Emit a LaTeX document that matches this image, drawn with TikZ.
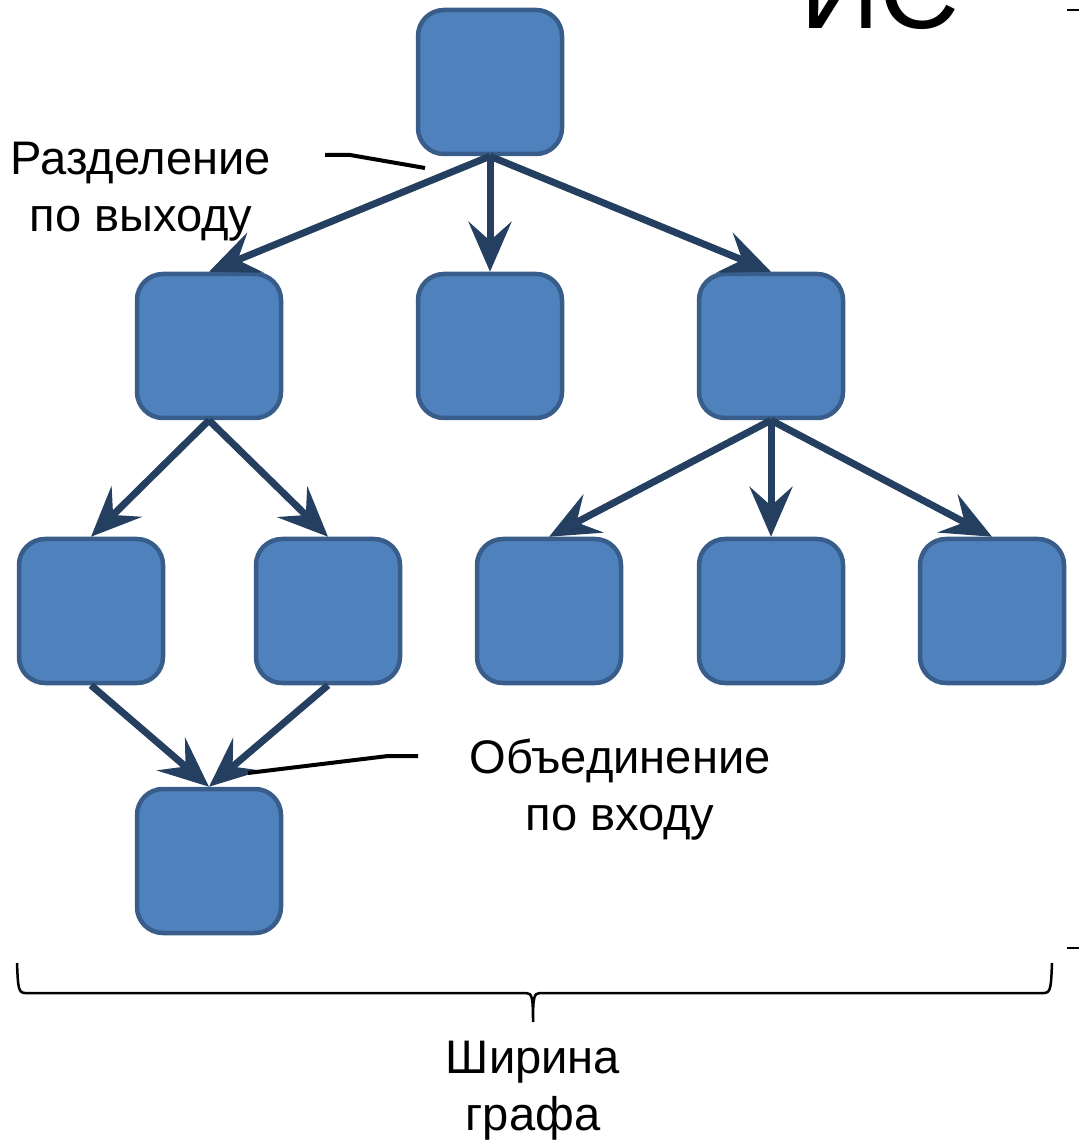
\documentclass[tikz,border=0pt]{standalone}
\usepackage{fontspec}
\setmainfont{Liberation Sans}
\usetikzlibrary{arrows.meta}
\usetikzlibrary{positioning}

\definecolor{boxfill}{HTML}{4F81BD}
\definecolor{boxline}{HTML}{385D8A}
\definecolor{edgeblue}{HTML}{243F60}

\begin{document}
\begin{tikzpicture}[
  x=0.1mm, y=-0.1mm,
  > = {Stealth[length=5mm,width=4.3mm,inset=1.9mm]},
  vertex/.style = {draw=boxline,fill=boxfill,line width=0.45mm,rounded corners=2.6mm,minimum size=14.4mm,inner sep=0pt},
  edge/.style = {->,draw=edgeblue,line width=0.7mm},
  callout/.style = {draw=black,line width=0.4mm},
  caption/.style = {font=\fontsize{13.4pt}{16.2pt}\selectfont,align=center,inner sep=0pt}
  ]
	\useasboundingbox (0,0) rectangle (1079,1143);

	\node[vertex] (@0) at (490,82) {};
	\node[vertex] (@1) at (209,346) {};
	\node[vertex] (@2) at (490,346) {};
	\node[vertex] (@3) at (771,346) {};
	\node[vertex] (@4) at (91,611) {};
	\node[vertex] (@5) at (328,611) {};
	\node[vertex] (@6) at (549,611) {};
	\node[vertex] (@7) at (771,611) {};
	\node[vertex] (@8) at (992,611) {};
	\node[vertex] (@9) at (209,861) {};

	\foreach \a/\b in {0/1,0/2,0/3,1/4,1/5,3/6,3/7,3/8,4/9,5/9}
		\draw[edge] (@\a.south) -- (@\b.north);

	% labels
	\node[caption,anchor=north] (split) at (141,141) {Разделение\\по выходу};
	\node[caption,anchor=north] (merge) at (620,738) {Объединение\\по входу};
	\node[caption,anchor=north] (width) at (533,1040) {Ширина\\графа};
	\node[font=\fontsize{31.5pt}{36pt}\selectfont,anchor=base,inner sep=0pt] (title) at (880,29) {ИС};

	\coordinate (s1) at (325,155);
	\coordinate (s2) at (425,168);
	\coordinate (m1) at (418,756);
	\coordinate (m2) at (248,773);
	\draw[callout] (s1) -- ++(25,0) -- (s2);
	\draw[callout] (m1) -- ++(-30,0) -- (m2);

	% brace
	\draw[line width=0.25mm] (17,963) .. controls (18,986) and (18,993) .. (25,993) -- (526,993)
		.. controls (532,993) and (533,997) .. (533,1022) .. controls (533,997) and (534,993) .. (540,993)
		-- (1044,993) .. controls (1051,993) and (1051,986) .. (1052,963);

	\draw[line width=0.15mm] (1067,10) -- (1079,10);
	\draw[line width=0.15mm] (1067,948) -- (1079,948);
\end{tikzpicture}
\end{document}
